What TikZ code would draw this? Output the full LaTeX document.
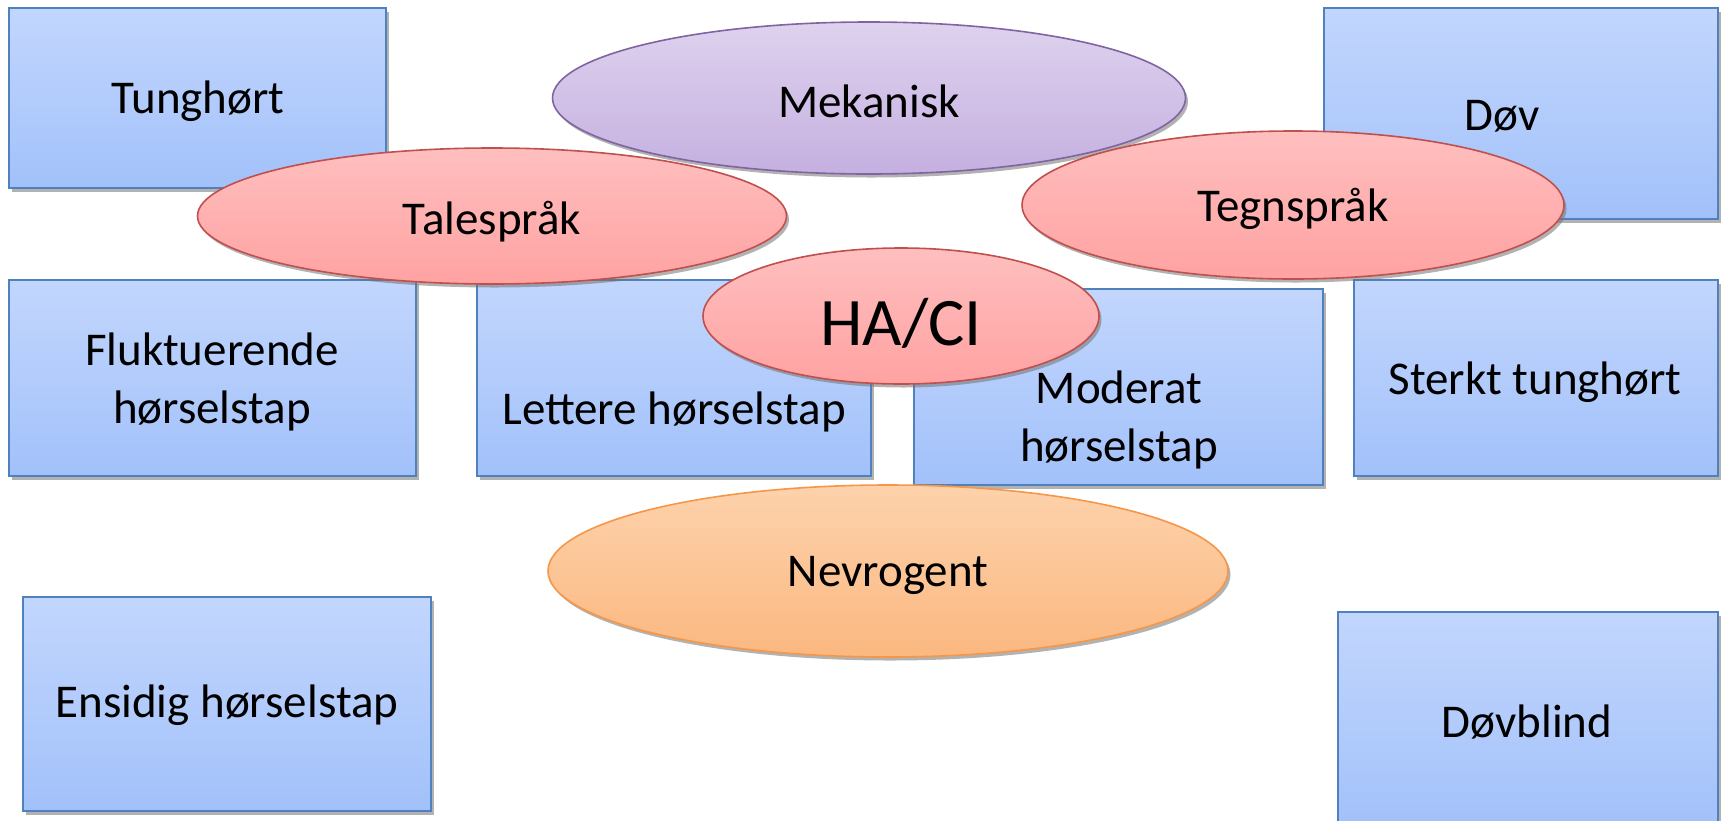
\documentclass[tikz,border=0pt]{standalone}
\usepackage{fontspec}
\setmainfont{Carlito}
\usetikzlibrary{shapes.geometric,shadows}
\definecolor{boxtop}{HTML}{C2D6FD}
\definecolor{boxbot}{HTML}{A2C1FA}
\definecolor{boxline}{HTML}{4F81BD}
\definecolor{redtop}{HTML}{FFBFBF}
\definecolor{redbot}{HTML}{FFA2A2}
\definecolor{redline}{HTML}{C0504D}
\definecolor{purtop}{HTML}{DED2EE}
\definecolor{purbot}{HTML}{C5B0E0}
\definecolor{purline}{HTML}{8064A2}
\definecolor{ortop}{HTML}{FDD2AC}
\definecolor{orbot}{HTML}{FBB880}
\definecolor{orline}{HTML}{F79646}
\tikzset{
  shadowed/.style={drop shadow={shadow xshift=2.5pt, shadow yshift=-3.5pt, fill=black!55, opacity=0.55}},
  hbox/.style={rectangle, draw=boxline, line width=2.4pt, top color=boxtop, bottom color=boxbot, shadowed, inner sep=0pt},
  oval/.style={ellipse, line width=1.6pt, shadowed, inner sep=0pt},
  redoval/.style={oval, draw=redline, top color=redtop, bottom color=redbot},
  puroval/.style={oval, draw=purline, top color=purtop, bottom color=purbot},
  oroval/.style={oval, draw=orline, top color=ortop, bottom color=orbot},
  lbl/.style={font=\fontsize{47}{58}\selectfont, align=center, inner sep=0pt}
}
\begin{document}
\begin{tikzpicture}[x=1pt,y=-1pt]
\useasboundingbox (0,0) rectangle (1723,820);
\clip (0,0) rectangle (1723,820);
% boxes
\node[hbox, minimum width=377pt, minimum height=180pt] (tung) at (197.5,98) {};
\node[hbox, minimum width=394pt, minimum height=211pt] (dov) at (1521,113.5) {};
\node[hbox, minimum width=407pt, minimum height=196pt] (fluk) at (212.5,378) {};
\node[hbox, minimum width=394pt, minimum height=196pt] (lett) at (674,378) {};
\node[hbox, minimum width=409pt, minimum height=196pt] (mod) at (1118.5,387) {};
\node[hbox, minimum width=364pt, minimum height=196pt] (sterk) at (1536,378) {};
\node[hbox, minimum width=408pt, minimum height=214pt] (ensi) at (227,704) {};
\node[hbox, minimum width=380pt, minimum height=216pt] (dovb) at (1528,720) {};
% box texts
\node[lbl] (tungT) at (198,101) {Tunghørt};
\node[lbl] (dovT) at (1502,116) {Døv};
\node[lbl] (flukT) at (212,382) {Fluktuerende\\hørselstap};
\node[lbl] (lettT) at (674,412) {Lettere hørselstap};
\node[lbl] (modT) at (1119,420) {Moderat\\hørselstap};
\node[lbl] (sterkT) at (1535,382) {Sterkt tunghørt};
\node[lbl] (ensiT) at (227,705) {Ensidig hørselstap};
\node[lbl] (dovbT) at (1527,722) {Døvblind};
% ellipses
\node[puroval, minimum width=633pt, minimum height=152pt] (mek) at (869,98) {};
\node[lbl] (mekT) at (869,101) {Mekanisk};
\node[redoval, minimum width=589pt, minimum height=136pt] (tale) at (492,216) {};
\node[lbl] (taleT) at (492,222) {Talespråk};
\node[redoval, minimum width=542pt, minimum height=148pt] (tegn) at (1293,205) {};
\node[lbl] (tegnT) at (1293,209) {Tegnspråk};
\node[redoval, minimum width=396pt, minimum height=136pt] (haci) at (901,316) {};
\node[lbl, font=\fontsize{68}{82}\selectfont] (haciT) at (901,323) {HA/CI};
\node[oroval, minimum width=680pt, minimum height=172pt] (nevr) at (888,571) {};
\node[lbl] (nevrT) at (888,575) {Nevrogent};
\end{tikzpicture}
\end{document}
